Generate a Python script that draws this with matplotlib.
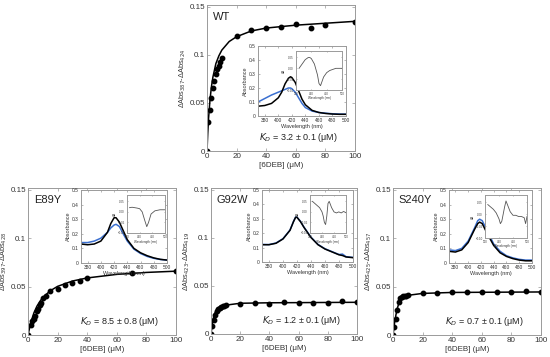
import matplotlib
matplotlib.use("Agg")
import matplotlib.pyplot as plt

plt.rcParams['font.family'] = ['Liberation Sans', 'DejaVu Sans']

# ---- titration data (ligand conc in uM, delta absorbance) ----
wt_x = [0, 1, 2, 3, 4, 5, 6, 7, 8, 9, 10, 20, 30, 40, 50, 60, 70, 80, 100]
wt_y = [0, 0.030, 0.043, 0.055, 0.066, 0.073, 0.080, 0.085, 0.088, 0.093, 0.097,
        0.120, 0.126, 0.128, 0.129, 0.132, 0.128, 0.131, 0.134]
wt_fit_x = [0, 0.5, 1, 2, 3, 4, 6, 8, 10, 15, 20, 30, 40, 60, 80, 100]
wt_fit_y = [0, 0.018, 0.033, 0.053, 0.067, 0.077, 0.091, 0.099, 0.105, 0.114, 0.119,
            0.125, 0.128, 0.131, 0.133, 0.135]

e89y_x = [0, 2, 3, 4, 5, 6, 7, 8, 9, 10, 12, 15, 20, 25, 30, 35, 40, 70, 100]
e89y_y = [0, 0.010, 0.014, 0.017, 0.020, 0.025, 0.027, 0.031, 0.033, 0.038, 0.040,
          0.046, 0.048, 0.052, 0.054, 0.056, 0.059, 0.064, 0.066]
e89y_fit_x = [0, 2, 4, 6, 8, 10, 15, 20, 30, 40, 60, 80, 100]
e89y_fit_y = [0, 0.0136, 0.0229, 0.0297, 0.0347, 0.0387, 0.0457, 0.0503, 0.0558,
              0.0590, 0.0627, 0.0647, 0.066]

g92w_x = [0, 1, 2, 3, 4, 5, 6, 7, 8, 9, 10, 20, 30, 40, 50, 60, 70, 80, 90, 100]
g92w_y = [0, 0.008, 0.015, 0.020, 0.024, 0.026, 0.027, 0.028, 0.029, 0.029, 0.030,
          0.031, 0.032, 0.031, 0.033, 0.032, 0.032, 0.032, 0.034, 0.033]
g92w_fit_x = [0, 1, 2, 3, 5, 8, 10, 15, 20, 40, 100]
g92w_fit_y = [0, 0.012, 0.019, 0.023, 0.027, 0.029, 0.030, 0.031, 0.032, 0.0325, 0.033]

s240y_x = [0, 1, 2, 3, 4, 5, 6, 7, 8, 9, 10, 20, 30, 40, 50, 60, 70, 80, 90, 100]
s240y_y = [0, 0.008, 0.017, 0.026, 0.034, 0.038, 0.039, 0.040, 0.040, 0.040, 0.041,
           0.043, 0.043, 0.044, 0.044, 0.044, 0.044, 0.044, 0.045, 0.044]
s240y_fit_x = [0, 1, 2, 3, 4, 5, 7, 10, 20, 40, 100]
s240y_fit_y = [0, 0.012, 0.021, 0.028, 0.033, 0.036, 0.039, 0.041, 0.043, 0.044, 0.0445]

# ---- absorbance spectra (wavelength nm, absorbance) ----
wt_wl = [370, 380, 390, 400, 405, 410, 415, 418, 420, 425, 430, 435, 440, 450, 460, 470, 480, 490, 500]
wt_abs_k = [0.07, 0.075, 0.09, 0.13, 0.17, 0.23, 0.27, 0.28, 0.275, 0.24, 0.18, 0.12,
            0.08, 0.04, 0.025, 0.018, 0.014, 0.012, 0.012]
wt_abs_b = [0.10, 0.125, 0.15, 0.17, 0.18, 0.19, 0.20, 0.20, 0.195, 0.17, 0.13, 0.09,
            0.06, 0.035, 0.025, 0.02, 0.016, 0.014, 0.013]

e89y_wl = [370, 380, 390, 400, 410, 415, 420, 423, 428, 435, 440, 450, 460, 470, 480, 490, 500]
e89y_abs_k = [0.13, 0.125, 0.13, 0.15, 0.21, 0.27, 0.31, 0.31, 0.28, 0.21, 0.16, 0.10,
              0.07, 0.05, 0.035, 0.025, 0.02]
e89y_abs_b = [0.14, 0.14, 0.15, 0.17, 0.21, 0.24, 0.26, 0.265, 0.25, 0.19, 0.15, 0.095,
              0.065, 0.045, 0.032, 0.024, 0.02]

g92w_wl = [370, 380, 390, 400, 410, 415, 418, 420, 425, 430, 440, 450, 460, 470, 480, 485, 490, 500]
g92w_abs_k = [0.12, 0.12, 0.13, 0.16, 0.22, 0.28, 0.31, 0.31, 0.28, 0.24, 0.17, 0.12,
              0.09, 0.07, 0.05, 0.045, 0.035, 0.03]
g92w_abs_b = [0.122, 0.121, 0.132, 0.162, 0.222, 0.282, 0.312, 0.312, 0.282, 0.242, 0.172,
              0.122, 0.092, 0.072, 0.052, 0.055, 0.037, 0.032]

s240y_wl = [370, 380, 390, 400, 410, 415, 418, 422, 430, 440, 450, 460, 470, 480, 490, 500]
s240y_abs_k = [0.08, 0.075, 0.09, 0.14, 0.23, 0.27, 0.28, 0.27, 0.20, 0.12, 0.07, 0.045,
               0.03, 0.02, 0.015, 0.015]
s240y_abs_b = [0.09, 0.085, 0.10, 0.15, 0.24, 0.29, 0.30, 0.29, 0.22, 0.13, 0.08, 0.05,
               0.035, 0.025, 0.02, 0.02]

# ---- difference spectra ----
wt_dwl = [360, 370, 380, 390, 395, 400, 410, 420, 425, 430, 435, 440, 450, 460, 470, 480, 490, 500]
wt_diff = [0.0, 0.02, 0.04, 0.05, 0.05, 0.045, 0.02, -0.03, -0.07, -0.08, -0.06, -0.04,
           -0.02, -0.01, -0.005, 0.0, 0.0, 0.0]
e89y_dwl = [360, 370, 380, 390, 400, 410, 420, 428, 435, 445, 460, 480, 500]
e89y_diff = [0.02, 0.022, 0.02, 0.018, 0.015, 0.0, -0.04, -0.07, -0.05, -0.01, 0.005, 0.01, 0.01]
g92w_dwl = [360, 370, 380, 390, 400, 405, 410, 415, 420, 425, 430, 440, 450, 460, 470, 480, 490, 500]
g92w_diff = [0.05, 0.04, 0.03, 0.02, 0.0, -0.02, -0.05, -0.06, -0.02, 0.04, 0.05, 0.02,
             0.0, -0.005, 0.0, -0.005, 0.002, -0.004]
s240y_dwl = [360, 370, 380, 390, 400, 405, 410, 420, 425, 430, 440, 450, 460, 470, 480, 490, 495, 500]
s240y_diff = [0.04, 0.03, 0.02, 0.005, -0.02, -0.04, -0.03, 0.03, 0.055, 0.04, 0.01, -0.005,
              -0.005, -0.01, -0.01, -0.015, -0.04, -0.01]

GRAY = '#9a9a9a'
TXT = '#333333'
BLUE = '#3a6fd0'


def style_axes(ax, fs):
    for s in ax.spines.values():
        s.set_color(GRAY)
        s.set_linewidth(0.7)
    ax.tick_params(direction='in', length=2, width=0.5, color=GRAY, labelsize=fs,
                   labelcolor=TXT, top=True, right=True, pad=1.5)


def main_panel(rect, x, y, fx, fy, name, ylab, kd):
    ax = fig.add_axes(rect)
    ax.plot(fx, fy, color='black', lw=1.1)
    ax.plot(x, y, 'o', color='black', ms=3.2)
    ax.set_xlim(0, 100)
    ax.set_ylim(0, 0.152)
    ax.set_xticks([0, 20, 40, 60, 80, 100])
    ax.set_yticks([0, 0.05, 0.1, 0.15])
    ax.set_yticklabels(['0', '0.05', '0.1', '0.15'])
    style_axes(ax, 5.8)
    ax.set_xlabel('[6DEB] (\u03bcM)', fontsize=5.8, color=TXT, labelpad=1.5)
    ax.set_ylabel(ylab, fontsize=5.3, color=TXT, labelpad=0.8)
    ax.text(0.04, 0.95, name, transform=ax.transAxes, fontsize=8, va='top', color='#222222')
    ax.text(0.62, 0.09, '$K_D$ = ' + kd + ' (\u03bcM)', transform=ax.transAxes,
            fontsize=6.5, ha='center', va='center', color='#222222')
    return ax


def spec_inset(rect, wl, k, b):
    ax = fig.add_axes(rect)
    ax.plot(wl, b, color=BLUE, lw=1.1)
    ax.plot(wl, k, color='black', lw=1.1)
    ax.set_xlim(370, 500)
    ax.set_ylim(0, 0.5)
    ax.set_xticks([380, 400, 420, 440, 460, 480, 500])
    ax.set_yticks([0, 0.1, 0.2, 0.3, 0.4, 0.5])
    ax.set_yticklabels(['0', '0.1', '0.2', '0.3', '0.4', '0.5'])
    style_axes(ax, 3.5)
    ax.tick_params(length=1.2)
    ax.set_xlabel('Wavelength (nm)', fontsize=4, color=TXT, labelpad=0.5)
    ax.set_ylabel('Absorbance', fontsize=4, color=TXT, labelpad=0.5)
    return ax


def diff_inset(rect, wl, d):
    ax = fig.add_axes(rect)
    ax.plot(wl, d, color='#555555', lw=0.6)
    ax.set_xlim(350, 500)
    ax.set_ylim(-0.1, 0.08)
    ax.set_xticks([350, 400, 450, 500])
    ax.set_yticks([-0.1, -0.05, 0, 0.05])
    style_axes(ax, 2)
    ax.tick_params(length=0.8)
    ax.set_xlabel('Wavelength (nm)', fontsize=2.2, color=TXT, labelpad=0.3)
    ax.set_ylabel('\u0394A', fontsize=2.2, color=TXT, labelpad=0.3)
    return ax


W, H = 550.0, 357.0


def rect(l, t, r, b):
    return [l / W, (H - b) / H, (r - l) / W, (b - t) / H]


fig = plt.figure(figsize=(5.5, 3.57), dpi=100)

main_panel(rect(207, 5, 355, 151), wt_x, wt_y, wt_fit_x, wt_fit_y, 'WT',
           '\u0394Abs$_{387}$-\u0394Abs$_{424}$', '3.2 \u00b1 0.1')
spec_inset(rect(258, 46, 346, 116), wt_wl, wt_abs_k, wt_abs_b)
diff_inset(rect(296, 51, 342, 90), wt_dwl, wt_diff)

main_panel(rect(28, 188, 176, 335), e89y_x, e89y_y, e89y_fit_x, e89y_fit_y, 'E89Y',
           '\u0394Abs$_{397}$-\u0394Abs$_{428}$', '8.5 \u00b1 0.8')
spec_inset(rect(81, 190, 167, 263), e89y_wl, e89y_abs_k, e89y_abs_b)
diff_inset(rect(127, 195, 165, 233), e89y_dwl, e89y_diff)

main_panel(rect(211, 188, 357, 334), g92w_x, g92w_y, g92w_fit_x, g92w_fit_y, 'G92W',
           '\u0394Abs$_{423}$-\u0394Abs$_{419}$', '1.2 \u00b1 0.1')
spec_inset(rect(262, 190, 353, 262), g92w_wl, g92w_abs_k, g92w_abs_b)
diff_inset(rect(310, 195, 346, 233), g92w_dwl, g92w_diff)

main_panel(rect(393, 188, 541, 335), s240y_x, s240y_y, s240y_fit_x, s240y_fit_y, 'S240Y',
           '\u0394Abs$_{425}$-\u0394Abs$_{457}$', '0.7 \u00b1 0.1')
spec_inset(rect(449, 190, 532, 263), s240y_wl, s240y_abs_k, s240y_abs_b)
diff_inset(rect(485, 195, 527, 238), s240y_dwl, s240y_diff)

fig.savefig('out.png', dpi=100)
